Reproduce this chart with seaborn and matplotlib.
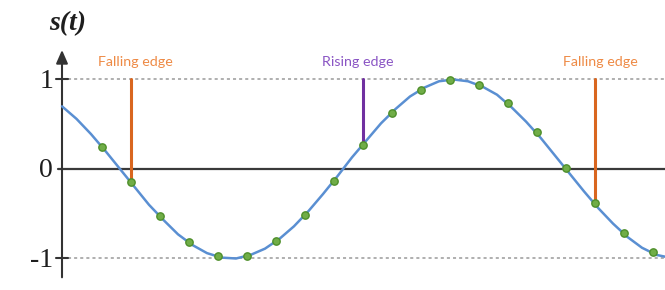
import matplotlib
matplotlib.use("Agg")
import matplotlib.pyplot as plt
import seaborn as sns
import pandas as pd

# ---- data ----
t_curve = [0.0, 0.5, 1.0, 1.5, 2.0, 2.5, 3.0, 3.5, 4.0, 4.5, 5.0, 5.5, 6.0, 6.5,
           7.0, 7.5, 8.0, 8.5, 9.0, 9.5, 10.0, 10.5, 11.0, 11.5, 12.0, 12.5, 13.0,
           13.5, 14.0, 14.5, 15.0, 15.5, 16.0, 16.5, 17.0, 17.5, 18.0, 18.5, 19.0,
           19.5, 20.0, 20.5, 20.8]
s_curve = [0.70, 0.56, 0.39, 0.20, 0.00, -0.20, -0.40, -0.57, -0.73, -0.85, -0.94,
           -0.99, -1.00, -0.96, -0.89, -0.78, -0.64, -0.47, -0.28, -0.08, 0.13, 0.32,
           0.51, 0.67, 0.81, 0.91, 0.98, 1.00, 0.98, 0.92, 0.83, 0.69, 0.53, 0.35,
           0.15, -0.05, -0.25, -0.44, -0.61, -0.76, -0.88, -0.96, -0.98]

t_samples = [1.37, 2.37, 3.37, 4.37, 5.37, 6.37, 7.37, 8.37, 9.37, 10.37, 11.37,
             12.37, 13.37, 14.37, 15.37, 16.37, 17.37, 18.37, 19.37, 20.37]
s_samples = [0.25, -0.15, -0.52, -0.82, -0.97, -0.97, -0.81, -0.51, -0.13, 0.27,
             0.63, 0.88, 0.99, 0.94, 0.74, 0.41, 0.01, -0.38, -0.71, -0.93]

edge_labels = ["Falling edge", "Rising edge", "Falling edge"]
edge_t = [2.37, 10.37, 18.37]
edge_bottom = [-0.15, 0.27, -0.38]
edge_top = [1.0, 1.0, 1.0]
edge_colors = ["#D9661F", "#7030A0", "#D9661F"]
label_colors = ["#EE8A45", "#8A55C4", "#EE8A45"]

y_ticks = [1, 0, -1]
y_ticklabels = ["1", "0", "-1"]

# ---- figure ----
sns.set_style("white")
fig = plt.figure(figsize=(6.65, 2.9), dpi=100)
ax = fig.add_axes([0, 0, 1, 1])
ax.set_xlim(-2.138, 20.793)
ax.set_ylim(-1.352, 1.888)
ax.axis("off")

# dotted reference lines at +/-1
for yv in (1, -1):
    ax.plot([0.2, 20.8], [yv, yv], color="#9a9a9a", lw=1.1,
            linestyle=(0, (2, 2)), zorder=1)
    ax.plot([-0.2, 0.2], [yv, yv], color="#333333", lw=1.5, zorder=3)

# zero line
ax.plot([-0.15, 20.8], [0, 0], color="#3a3a3a", lw=1.6, zorder=2)

# vertical axis with arrow
ax.annotate("", xy=(0, 1.33), xytext=(0, -1.21),
            arrowprops=dict(arrowstyle="-|>,head_length=0.8,head_width=0.35",
                            color="#333333", lw=1.5, shrinkA=0, shrinkB=0),
            zorder=3)

# curve
df_curve = pd.DataFrame({"t": t_curve, "s": s_curve})
sns.lineplot(data=df_curve, x="t", y="s", ax=ax, color="#5A8FD2", lw=1.8,
             zorder=4, legend=False)

# edge stems
for t, b, top, c in zip(edge_t, edge_bottom, edge_top, edge_colors):
    ax.plot([t, t], [b, top], color=c, lw=2.2, zorder=5)

# samples
df_s = pd.DataFrame({"t": t_samples, "s": s_samples})
sns.scatterplot(data=df_s, x="t", y="s", ax=ax, color="#70AD47",
                edgecolor="#4E8F2A", linewidth=1.0, s=28, zorder=6, legend=False)

# edge labels
label_t = [2.52, 10.19, 18.55]
for lab, t, c in zip(edge_labels, label_t, label_colors):
    ax.text(t, 1.2, lab, color=c, fontsize=10.3, family="Lato",
            ha="center", va="center")

# y tick labels
for yv, lab in zip(y_ticks, y_ticklabels):
    ax.text(-0.31, yv - 0.02, lab, fontsize=20, family="Liberation Serif",
            ha="right", va="center", color="#1e1e1e")

# axis title
ax.text(0.2, 1.62, "s(t)", fontsize=20, family="Liberation Serif",
        style="italic", fontweight="bold", ha="center", va="center",
        color="#1e1e1e")

ax.set_xlabel("")
ax.set_ylabel("")
fig.savefig("out.png", dpi=100, facecolor="white")
